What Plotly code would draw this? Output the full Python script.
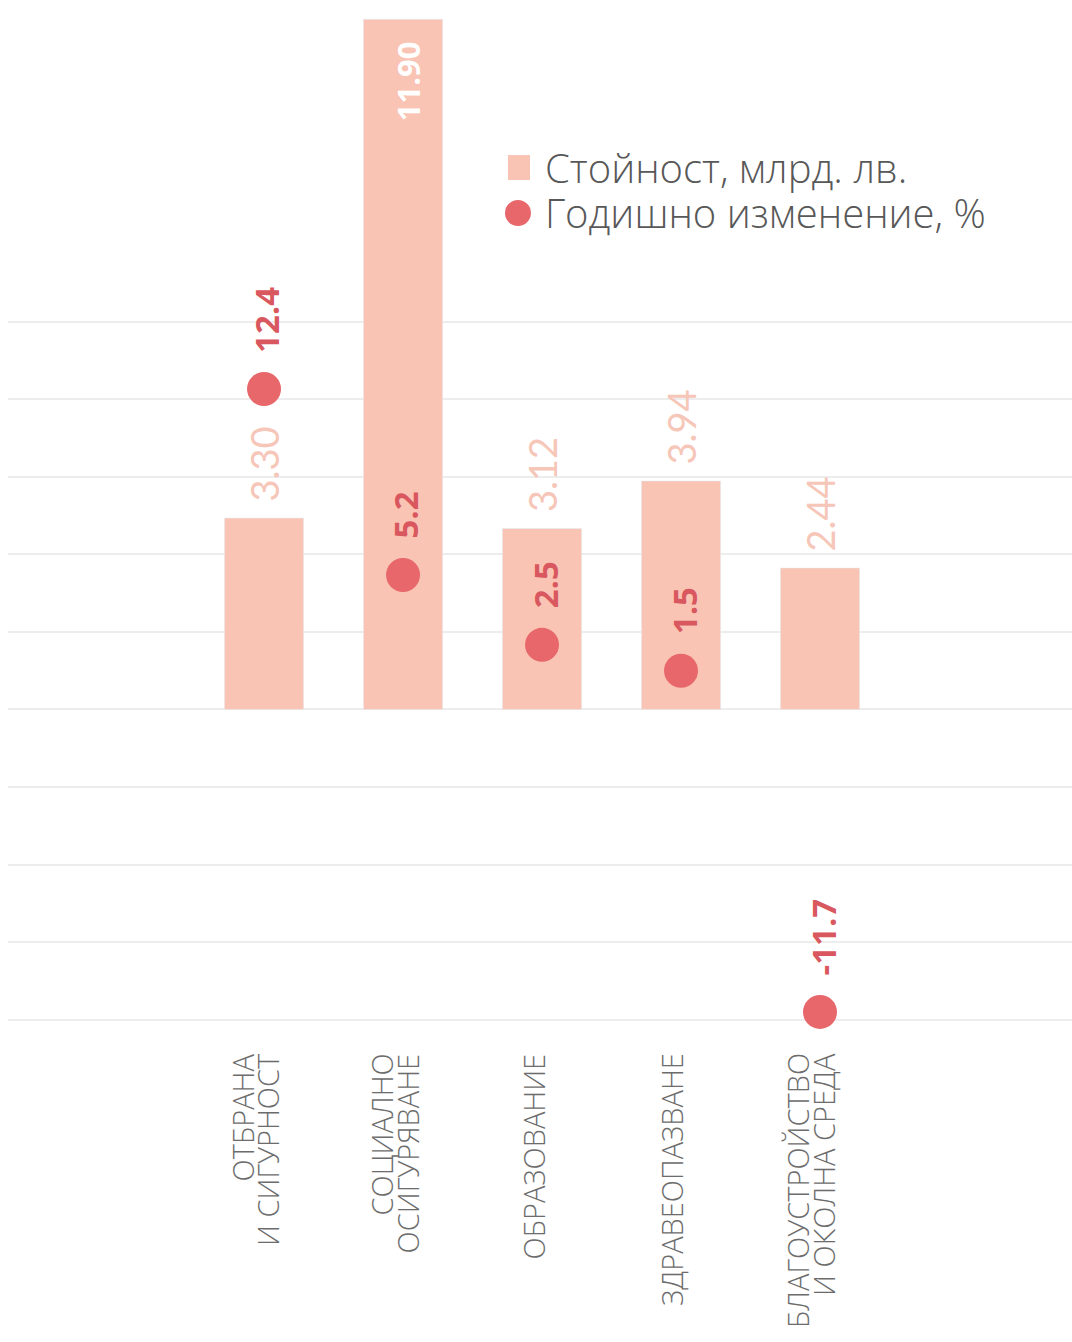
import plotly.graph_objects as go

categories = ["ОТБРАНА\nИ СИГУРНОСТ", "СОЦИАЛНО\nОСИГУРЯВАНЕ", "ОБРАЗОВАНИЕ",
              "ЗДРАВЕОПАЗВАНЕ", "БЛАГОУСТРОЙСТВО\nИ ОКОЛНА СРЕДА"]
values_bn = [3.30, 11.90, 3.12, 3.94, 2.44]
change_pct = [12.4, 5.2, 2.5, 1.5, -11.7]
value_labels = ["3.30", "11.90", "3.12", "3.94", "2.44"]
change_labels = ["12.4", "5.2", "2.5", "1.5", "-11.7"]
legend_names = ["Стойност, млрд. лв.", "Годишно изменение, %"]
grid_vals = [-12, -9, -6, -3, 0, 3, 6, 9, 12, 15]

BAR = "#F9C4B4"
DOT = "#E8676B"
DOT_TXT = "#D9575E"
BAR_TXT = "#F6C6B8"
GREY = "#6c6c6c"
FONT = "Lato"
SANS = "Open Sans"

xs = list(range(len(categories)))

fig = go.Figure()
fig.add_trace(go.Bar(x=xs, y=values_bn, marker_color=BAR, width=0.57,
                     name=legend_names[0], yaxis="y", showlegend=False))
fig.add_trace(go.Scatter(x=xs, y=change_pct, mode="markers", name=legend_names[1],
                         marker=dict(size=34, color=DOT), yaxis="y2", showlegend=False))

ann = []
for i, (v, lab) in enumerate(zip(values_bn, value_labels)):
    if v > 10:
        ann.append(dict(x=i, y=v, xref="x", yref="y", text=lab, textangle=-90,
                        showarrow=False, yanchor="top", xanchor="center", yshift=-20, xshift=5,
                        font=dict(family=SANS, size=31, color="white", weight=700)))
    else:
        ann.append(dict(x=i, y=v, xref="x", yref="y", text=lab, textangle=-90,
                        showarrow=False, yanchor="bottom", xanchor="center", yshift=14,
                        font=dict(family=FONT, size=38, color=BAR_TXT)))
for i, (v, lab) in enumerate(zip(change_pct, change_labels)):
    ann.append(dict(x=i, y=v, xref="x", yref="y2", text=lab,
                    textangle=-90, showarrow=False, yanchor="bottom", xanchor="center",
                    yshift=34, xshift=3,
                    font=dict(family=SANS, size=33, color=DOT_TXT, weight=700)))

# category labels: one annotation per line, tight line pitch
PITCH = 26
for i, c in enumerate(categories):
    lines = c.split("\n")
    n = len(lines)
    for j, ln in enumerate(lines):
        off = (j - (n - 1) / 2) * PITCH - 9
        ann.append(dict(x=i, y=-0.021, xref="x", yref="paper", text=ln, textangle=-90,
                        showarrow=False, yanchor="top", xanchor="center", xshift=off,
                        font=dict(family=SANS, size=29, color=GREY, weight=300)))

# legend
ann.append(dict(x=0.5028, y=0.846, xref="paper", yref="paper", text=legend_names[0],
                showarrow=False, xanchor="left", yanchor="middle",
                font=dict(family=SANS, size=40, color="#585858", weight=300)))
ann.append(dict(x=0.5028, y=0.801, xref="paper", yref="paper", text=legend_names[1],
                showarrow=False, xanchor="left", yanchor="middle",
                font=dict(family=SANS, size=40, color="#585858", weight=300)))
shapes = [
    dict(type="rect", xref="paper", yref="paper", x0=0.4699, x1=0.4906, y0=0.8333, y1=0.8578,
         fillcolor=BAR, line=dict(width=0)),
    dict(type="circle", xref="paper", yref="paper", x0=0.4671, x1=0.4915, y0=0.7882, y1=0.8137,
         fillcolor=DOT, line=dict(width=0)),
]

fig.update_layout(
    width=1072, height=1342,
    margin=dict(l=8, r=0, t=10, b=312),
    paper_bgcolor="white", plot_bgcolor="white",
    annotations=ann, shapes=shapes, showlegend=False,
    xaxis=dict(range=[-1.842, 5.813], showgrid=False, zeroline=False, showticklabels=False,
               fixedrange=True),
    yaxis=dict(range=[-5.526, 12.06], showgrid=False, zeroline=False, showticklabels=False),
    yaxis2=dict(range=[-12.40, 27.06], overlaying="y", side="right", tickmode="array",
                tickvals=grid_vals, showticklabels=False, showgrid=True, gridcolor="#EDEDED",
                gridwidth=1.5, zeroline=False),
)

fig.write_html("out.html")
